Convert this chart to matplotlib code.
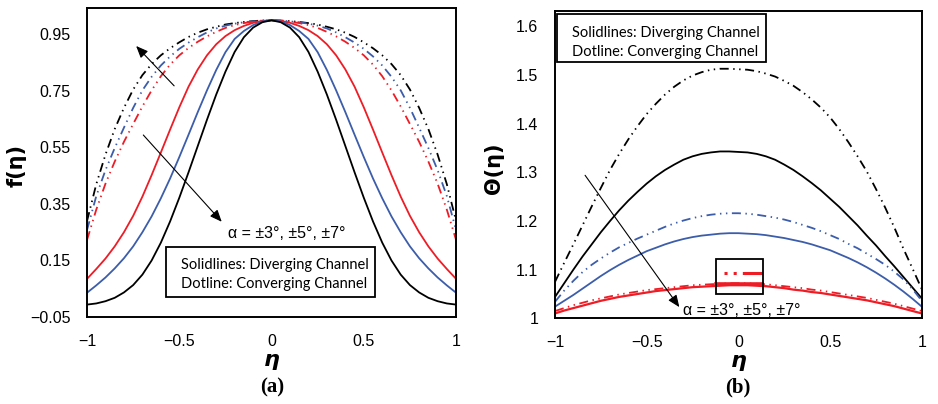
import numpy as np
import matplotlib.pyplot as plt
from matplotlib.patches import Rectangle

plt.rcParams['font.family'] = ['Liberation Sans', 'DejaVu Sans']

# sample points across the channel, -1 ... 1 in steps of 0.05
eta_a = np.linspace(-1, 1, 41)
eta_b = np.linspace(-1, 1, 41)

# ---- (a) velocity profile f(eta) ----
# diverging channel (solid)
f_div_7 = [-0.006, -0.002, 0.006, 0.018, 0.037, 0.063, 0.1, 0.15, 0.213, 0.288, 0.372,
           0.462, 0.555, 0.648, 0.737, 0.818, 0.888, 0.94, 0.974, 0.993, 1.0,
           0.993, 0.974, 0.94, 0.888, 0.818, 0.737, 0.648, 0.555, 0.462, 0.372,
           0.288, 0.213, 0.15, 0.1, 0.063, 0.037, 0.018, 0.006, -0.002, -0.006]
f_div_5 = [0.036, 0.062, 0.09, 0.122, 0.158, 0.2, 0.25, 0.306, 0.37, 0.44, 0.516,
           0.595, 0.675, 0.752, 0.824, 0.887, 0.934, 0.962, 0.983, 0.996, 1.0,
           0.996, 0.983, 0.962, 0.934, 0.887, 0.824, 0.752, 0.675, 0.595, 0.516,
           0.44, 0.37, 0.306, 0.25, 0.2, 0.158, 0.122, 0.09, 0.062, 0.036]
f_div_3 = [0.085, 0.12, 0.157, 0.2, 0.25, 0.308, 0.376, 0.452, 0.532, 0.613, 0.692,
           0.765, 0.826, 0.876, 0.915, 0.944, 0.965, 0.98, 0.991, 0.998, 1.0,
           0.998, 0.991, 0.98, 0.965, 0.944, 0.915, 0.876, 0.826, 0.765, 0.692,
           0.613, 0.532, 0.452, 0.376, 0.308, 0.25, 0.2, 0.157, 0.12, 0.085]
# converging channel (dash-dot-dot)
f_con_7 = [0.29, 0.42, 0.525, 0.615, 0.69, 0.755, 0.806, 0.845, 0.876, 0.901, 0.922,
           0.941, 0.956, 0.968, 0.977, 0.985, 0.99, 0.994, 0.997, 0.999, 1.0,
           0.999, 0.997, 0.994, 0.99, 0.985, 0.977, 0.968, 0.956, 0.941, 0.922,
           0.901, 0.876, 0.845, 0.806, 0.755, 0.69, 0.615, 0.525, 0.42, 0.29]
f_con_5 = [0.258, 0.378, 0.47, 0.548, 0.62, 0.69, 0.752, 0.8, 0.84, 0.872, 0.899,
           0.921, 0.94, 0.957, 0.971, 0.981, 0.988, 0.993, 0.996, 0.999, 1.0,
           0.999, 0.996, 0.993, 0.988, 0.981, 0.971, 0.957, 0.94, 0.921, 0.899,
           0.872, 0.84, 0.8, 0.752, 0.69, 0.62, 0.548, 0.47, 0.378, 0.258]
f_con_3 = [0.223, 0.33, 0.422, 0.5, 0.57, 0.633, 0.695, 0.752, 0.802, 0.843, 0.876,
           0.902, 0.924, 0.943, 0.959, 0.973, 0.983, 0.99, 0.995, 0.998, 1.0,
           0.998, 0.995, 0.99, 0.983, 0.973, 0.959, 0.943, 0.924, 0.902, 0.876,
           0.843, 0.802, 0.752, 0.695, 0.633, 0.57, 0.5, 0.422, 0.33, 0.223]

# ---- (b) temperature profile Theta(eta) ----
t_con_7 = [1.075, 1.114, 1.152, 1.191, 1.23, 1.268, 1.305, 1.338, 1.368, 1.395, 1.42,
           1.441, 1.46, 1.476, 1.489, 1.499, 1.506, 1.511, 1.513, 1.513, 1.512,
           1.511, 1.508, 1.503, 1.497, 1.488, 1.478, 1.465, 1.45, 1.433, 1.413,
           1.389, 1.362, 1.333, 1.302, 1.266, 1.228, 1.187, 1.143, 1.102, 1.06]
t_div_7 = [1.044, 1.072, 1.10, 1.127, 1.152, 1.177, 1.20, 1.222, 1.242, 1.26, 1.277,
           1.292, 1.305, 1.316, 1.326, 1.333, 1.338, 1.341, 1.343, 1.343, 1.342,
           1.341, 1.338, 1.333, 1.326, 1.316, 1.305, 1.292, 1.278, 1.263, 1.246,
           1.229, 1.21, 1.191, 1.17, 1.15, 1.128, 1.107, 1.085, 1.063, 1.041]
t_con_5 = [1.034, 1.057, 1.077, 1.095, 1.11, 1.123, 1.135, 1.146, 1.155, 1.164, 1.172,
           1.18, 1.188, 1.195, 1.201, 1.206, 1.21, 1.213, 1.215, 1.216, 1.216,
           1.215, 1.213, 1.21, 1.207, 1.203, 1.198, 1.192, 1.186, 1.179, 1.171,
           1.163, 1.153, 1.144, 1.133, 1.122, 1.11, 1.096, 1.08, 1.06, 1.036]
t_div_5 = [1.024, 1.036, 1.048, 1.061, 1.074, 1.087, 1.099, 1.11, 1.12, 1.129, 1.138,
           1.145, 1.152, 1.158, 1.163, 1.167, 1.17, 1.172, 1.174, 1.175, 1.175,
           1.174, 1.173, 1.171, 1.168, 1.165, 1.161, 1.157, 1.152, 1.146, 1.14,
           1.132, 1.124, 1.115, 1.105, 1.094, 1.082, 1.069, 1.055, 1.04, 1.024]
t_con_3 = [1.015, 1.021, 1.027, 1.032, 1.037, 1.041, 1.045, 1.049, 1.052, 1.055, 1.058,
           1.06, 1.062, 1.064, 1.066, 1.068, 1.069, 1.07, 1.071, 1.072, 1.072,
           1.072, 1.071, 1.07, 1.068, 1.066, 1.064, 1.062, 1.059, 1.057, 1.054,
           1.051, 1.048, 1.045, 1.042, 1.038, 1.034, 1.03, 1.025, 1.02, 1.015]
t_div_3 = [1.010, 1.016, 1.021, 1.026, 1.031, 1.036, 1.040, 1.044, 1.047, 1.05, 1.053,
           1.056, 1.058, 1.06, 1.062, 1.064, 1.065, 1.066, 1.067, 1.068, 1.068,
           1.068, 1.067, 1.066, 1.064, 1.062, 1.059, 1.057, 1.054, 1.052, 1.049,
           1.046, 1.043, 1.04, 1.037, 1.033, 1.029, 1.025, 1.02, 1.015, 1.01]

xticks = [-1, -0.5, 0, 0.5, 1]
xticklabels = ['\u22121', '\u22120.5', '0', '0.5', '1']
yticks_a = [-0.05, 0.15, 0.35, 0.55, 0.75, 0.95]
yticklabels_a = ['\u22120.05', '0.15', '0.35', '0.55', '0.75', '0.95']
yticks_b = [1, 1.1, 1.2, 1.3, 1.4, 1.5, 1.6]
yticklabels_b = ['1', '1.1', '1.2', '1.3', '1.4', '1.5', '1.6']

BLACK = 'black'
BLUE = '#3c5daa'
RED = '#ee1c25'
DDOT = (0, (5, 2.5, 0.8, 2.5, 0.8, 2.5))
LW = 1.3

fig = plt.figure(figsize=(9.38, 4.04), dpi=100)
ax1 = fig.add_axes([0.0928, 0.2153, 0.3934, 0.766])
ax2 = fig.add_axes([0.5917, 0.2121, 0.391, 0.761])

# panel a curves
ax1.plot(eta_a, f_con_7, color=BLACK, lw=LW, ls=DDOT)
ax1.plot(eta_a, f_con_5, color=BLUE, lw=LW, ls=DDOT)
ax1.plot(eta_a, f_con_3, color=RED, lw=LW, ls=DDOT)
ax1.plot(eta_a, f_div_3, color=RED, lw=LW)
ax1.plot(eta_a, f_div_5, color=BLUE, lw=LW)
ax1.plot(eta_a, f_div_7, color=BLACK, lw=LW)

# panel b curves
ax2.plot(eta_b, t_con_7, color=BLACK, lw=LW, ls=DDOT)
ax2.plot(eta_b, t_div_7, color=BLACK, lw=LW)
ax2.plot(eta_b, t_con_5, color=BLUE, lw=LW, ls=DDOT)
ax2.plot(eta_b, t_div_5, color=BLUE, lw=LW)
ax2.plot(eta_b, t_con_3, color=RED, lw=LW, ls=DDOT)
ax2.plot(eta_b, t_div_3, color=RED, lw=1.6)

ax1.set_xlim(-1, 1)
ax1.set_ylim(-0.05, 1.045)
ax2.set_xlim(-1, 1)
ax2.set_ylim(1.0, 1.632)

ax1.set_yticks(yticks_a)
ax1.set_yticklabels(yticklabels_a)
ax2.set_yticks(yticks_b)
ax2.set_yticklabels(yticklabels_b)

for ax in (ax1, ax2):
    ax.set_xticks(xticks)
    ax.set_xticklabels(xticklabels)
    ax.tick_params(length=0, labelsize=11.5, pad=12)
    for s in ax.spines.values():
        s.set_linewidth(1.4)
    ax.set_xlabel('\u03b7', fontsize=16, fontweight='bold', fontstyle='italic',
                  family='DejaVu Sans')
    ax.xaxis.set_label_coords(0.5, -0.105)

ax1.set_ylabel('f(\u03b7)', fontsize=15, fontweight='bold', family='DejaVu Sans')
ax1.yaxis.set_label_coords(-0.165, 0.49)
ax2.set_ylabel('\u0398(\u03b7)', fontsize=15, fontweight='bold', family='DejaVu Sans')
ax2.yaxis.set_label_coords(-0.138, 0.489)

fig.text(0.29, 0.04, '(a)', ha='center', va='center', fontsize=15,
         fontweight='bold', family='Liberation Serif')
fig.text(0.787, 0.04, '(b)', ha='center', va='center', fontsize=15,
         fontweight='bold', family='Liberation Serif')

# info boxes
ax1.add_patch(Rectangle((-0.573, 0.0197), 1.134, 0.177, fill=False, lw=1.3,
                        ec='black', zorder=5))
ax1.text(-0.491, 0.134, 'Solidlines: Diverging Channel', fontsize=10.5,
         family='Lato', va='center')
ax1.text(-0.491, 0.067, 'Dotline: Converging Channel', fontsize=10.5,
         family='Lato', va='center')
ax2.add_patch(Rectangle((-0.991, 1.526), 1.143, 0.099, fill=False, lw=1.3,
                        ec='black', zorder=5))
ax2.text(-0.909, 1.587, 'Solidlines: Diverging Channel', fontsize=10.5,
         family='Lato', va='center')
ax2.text(-0.909, 1.547, 'Dotline: Converging Channel', fontsize=10.5,
         family='Lato', va='center')

# arrows and angle labels
arrow = dict(arrowstyle='-|>,head_length=0.6,head_width=0.25', lw=0.8,
             color='black', mutation_scale=12, shrinkA=0, shrinkB=0)
ax1.annotate('', xy=(-0.734, 0.909), xytext=(-0.528, 0.768), arrowprops=arrow)
ax1.annotate('', xy=(-0.27, 0.287), xytext=(-0.695, 0.594), arrowprops=arrow)
ax1.text(-0.236, 0.247, '\u03b1 = \u00b13\u00b0, \u00b15\u00b0, \u00b17\u00b0',
         fontsize=11.5, va='center')
ax2.annotate('', xy=(-0.322, 1.023), xytext=(-0.836, 1.294), arrowprops=arrow)
ax2.text(-0.302, 1.017, '\u03b1 = \u00b13\u00b0, \u00b15\u00b0, \u00b17\u00b0',
         fontsize=11.5, va='center')

# zoom box on the overlapping red curves
ax2.add_patch(Rectangle((-0.122, 1.049), 0.258, 0.072, fill=False, lw=1.3,
                        ec='black', zorder=5))
ax2.plot([-0.08, 0.13], [1.094, 1.094], color=RED, lw=2.2, ls=(0, (1, 2, 1, 2, 6, 0)))
ax2.plot([-0.12, 0.13], [1.070, 1.070], color=RED, lw=2.6)

fig.savefig('out.png', dpi=100)
